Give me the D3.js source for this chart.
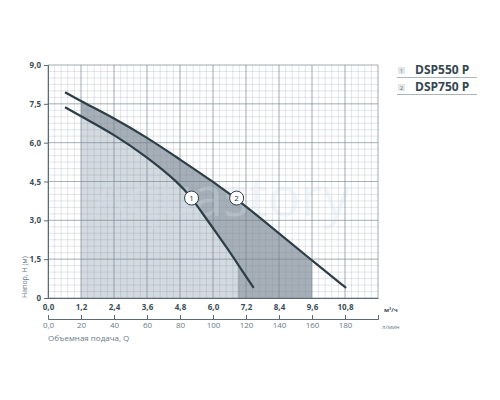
<!DOCTYPE html>
<html>
<head>
<meta charset="utf-8">
<script src="https://cdn.jsdelivr.net/npm/d3@7"></script>
<style>
  body { margin: 0; background: #fff; }
  text { font-family: "Open Sans", "DejaVu Sans", sans-serif; }
</style>
</head>
<body>
<div id="chart"></div>
<script>
/* DATA */
const xTicks = [0, 1.2, 2.4, 3.6, 4.8, 6.0, 7.2, 8.4, 9.6, 10.8];
const lpmTicks = [0, 20, 40, 60, 80, 100, 120, 140, 160, 180];
const yTicks = [0, 1.5, 3.0, 4.5, 6.0, 7.5, 9.0];

const pump1 = [
  [0.62, 7.37], [1.2, 7.02], [2.4, 6.32], [3.6, 5.45], [4.8, 4.4],
  [5.22, 3.86], [5.6, 3.3], [6.0, 2.7], [6.5, 1.95], [7.0, 1.15], [7.48, 0.39]
];
const pump2 = [
  [0.62, 7.95], [1.2, 7.6], [2.4, 6.95], [3.6, 6.2], [4.8, 5.35],
  [6.0, 4.5], [7.2, 3.55], [8.4, 2.5], [9.6, 1.45], [10.84, 0.39]
];
const range1 = [1.2, 6.9];
const range2 = [1.2, 9.6];
const labels = [{ n: "1", x: 5.22, y: 3.86 }, { n: "2", x: 6.86, y: 3.86 }];
const legend = ["DSP550 P", "DSP750 P"];

/* SETUP */
const width = 500, height = 400;
const margin = { top: 65, left: 48, right: 122, bottom: 102 };

const svg = d3.select("#chart").append("svg")
  .attr("width", width).attr("height", height);

const x = d3.scaleLinear().domain([0, 12]).range([margin.left, width - margin.right]);
const y = d3.scaleLinear().domain([0, 9]).range([height - margin.bottom, margin.top]);
const xl = d3.scaleLinear().domain([0, 200]).range([margin.left, width - margin.right]);

// operating areas (curve interpolated with the same smoothing as the lines)
const curve = d3.curveBasis;
const line = d3.line().x(d => x(d[0])).y(d => y(d[1])).curve(curve);

function areaPath(pts, r) {
  // sample the drawn path, keep the part inside the range
  const tmp = svg.append("path").attr("d", line(pts)).attr("visibility", "hidden");
  const node = tmp.node(), L = node.getTotalLength();
  const out = [];
  for (let s = 0; s <= L; s += 0.5) {
    const p = node.getPointAtLength(s);
    if (p.x >= x(r[0]) && p.x <= x(r[1])) out.push([p.x, p.y]);
  }
  tmp.remove();
  const x0 = x(r[0]), x1 = x(r[1]);
  return "M" + x0 + "," + y(0) + "L" + x0 + "," + out[0][1] +
    out.map(p => "L" + p[0] + "," + p[1]).join("") +
    "L" + x1 + "," + out[out.length - 1][1] + "L" + x1 + "," + y(0) + "Z";
}
svg.append("path").attr("d", areaPath(pump2, range2)).attr("fill", "#a6afb7");
svg.append("path").attr("d", areaPath(pump1, range1)).attr("fill", "#d3dae0");

// minor grid
const minorX = d3.range(0, 12.001, 0.24);
const minorY = d3.range(0, 9.001, 0.25);
const gridCol = "#7f8f9e";
svg.append("g").selectAll("line").data(minorX).join("line")
  .attr("x1", d => x(d)).attr("x2", d => x(d))
  .attr("y1", y(0)).attr("y2", y(9))
  .attr("stroke", gridCol).attr("stroke-opacity", 0.28).attr("stroke-width", 0.8);
svg.append("g").selectAll("line").data(minorY).join("line")
  .attr("y1", d => y(d)).attr("y2", d => y(d))
  .attr("x1", x(0)).attr("x2", x(12))
  .attr("stroke", gridCol).attr("stroke-opacity", 0.28).attr("stroke-width", 0.8);

// watermark
svg.append("text").attr("x", x(6.3)).attr("y", y(3.15))
  .attr("text-anchor", "middle").attr("font-size", 54)
  .attr("fill", "#d5e1ec").attr("opacity", 0.3).text("Aquastory");

// major grid
svg.append("g").selectAll("line").data(d3.range(0, 12.01, 1.2)).join("line")
  .attr("x1", d => x(d)).attr("x2", d => x(d))
  .attr("y1", y(0)).attr("y2", y(9))
  .attr("stroke", "#6f7f8c").attr("stroke-opacity", 0.5).attr("stroke-width", 1);
svg.append("g").selectAll("line").data(yTicks).join("line")
  .attr("y1", d => y(d)).attr("y2", d => y(d))
  .attr("x1", x(0)).attr("x2", x(12))
  .attr("stroke", "#6f7f8c").attr("stroke-opacity", 0.5).attr("stroke-width", 1);

// curves
[pump1, pump2].forEach(p => {
  svg.append("path").datum(p).attr("d", line)
    .attr("fill", "none").attr("stroke", "#2d3e46").attr("stroke-width", 2.2);
});

// curve labels
const lab = svg.append("g").selectAll("g").data(labels).join("g")
  .attr("transform", d => `translate(${x(d.x)},${y(d.y)})`);
lab.append("circle").attr("r", 7).attr("fill", "#fff").attr("stroke", "#2d3e46").attr("stroke-width", 1);
lab.append("text").attr("dy", "0.35em").attr("text-anchor", "middle")
  .attr("font-size", 8).attr("fill", "#2d3e46").text(d => d.n);

// axes
const txtCol = "#3c4e58";
const yAxis = svg.append("g").attr("transform", `translate(${x(0)},0)`)
  .call(d3.axisLeft(y).tickValues(yTicks).tickSize(4).tickPadding(3)
    .tickFormat(d => d === 0 ? "0" : d3.format(".1f")(d).replace(".", ",")));
yAxis.select(".domain").attr("stroke", "#5b6b74");
yAxis.selectAll(".tick line").attr("stroke", "#5b6b74");
yAxis.selectAll("text").attr("font-size", 8).attr("font-weight", "bold").attr("fill", txtCol);

const xAxis = svg.append("g").attr("transform", `translate(0,${y(0)})`)
  .call(d3.axisBottom(x).tickValues(xTicks).tickSize(0).tickPadding(6)
    .tickFormat(d => d3.format(".1f")(d).replace(".", ",")));
xAxis.select(".domain").attr("stroke", "#5b6b74");
xAxis.selectAll("text").attr("font-size", 8).attr("font-weight", "bold").attr("fill", txtCol);

const lAxis = svg.append("g").attr("transform", `translate(0,319)`)
  .call(d3.axisBottom(xl).tickValues(lpmTicks.concat([200])).tickSize(-4).tickPadding(3)
    .tickFormat(d => d === 200 ? "" : (d === 0 ? "0,0" : d)));
lAxis.select(".domain").attr("stroke", "#5b6b74");
lAxis.selectAll(".tick line").attr("stroke", "#5b6b74");
lAxis.selectAll("text").attr("font-size", 8).attr("fill", "#6a7a84");

svg.append("text").attr("x", x(12) + 6).attr("y", 312)
  .attr("font-size", 6).attr("font-weight", "bold").attr("fill", txtCol).text("м³/ч");
svg.append("text").attr("x", x(12) + 4).attr("y", 329)
  .attr("font-size", 6).attr("fill", "#6a7a84").text("л/мин");
svg.append("text").attr("x", x(0)).attr("y", 341)
  .attr("font-size", 8).attr("fill", "#6a7a84").text("Объемная подача, Q");
svg.append("text").attr("transform", `translate(27,${y(0)}) rotate(-90)`)
  .attr("font-size", 7).attr("fill", "#6a7a84").text("Напор, H (м)");

// legend
const lg = svg.append("g").selectAll("g").data(legend).join("g")
  .attr("transform", (d, i) => `translate(397,${73 + i * 17})`);
lg.append("rect").attr("x", 1).attr("y", -6).attr("width", 7).attr("height", 7).attr("fill", "#e3e7ea");
lg.append("text").attr("x", 4.5).attr("y", 0).attr("text-anchor", "middle")
  .attr("font-size", 6).attr("fill", "#6a7a84").text((d, i) => i + 1);
lg.append("text").attr("x", 18).attr("y", 1)
  .attr("font-size", 12).attr("font-weight", "bold").attr("fill", "#34464f").text(d => d);
lg.append("line").attr("x1", 0).attr("x2", 80).attr("y1", 4.5).attr("y2", 4.5)
  .attr("stroke", "#aab4bb").attr("stroke-width", 1.2);
</script>
</body>
</html>
